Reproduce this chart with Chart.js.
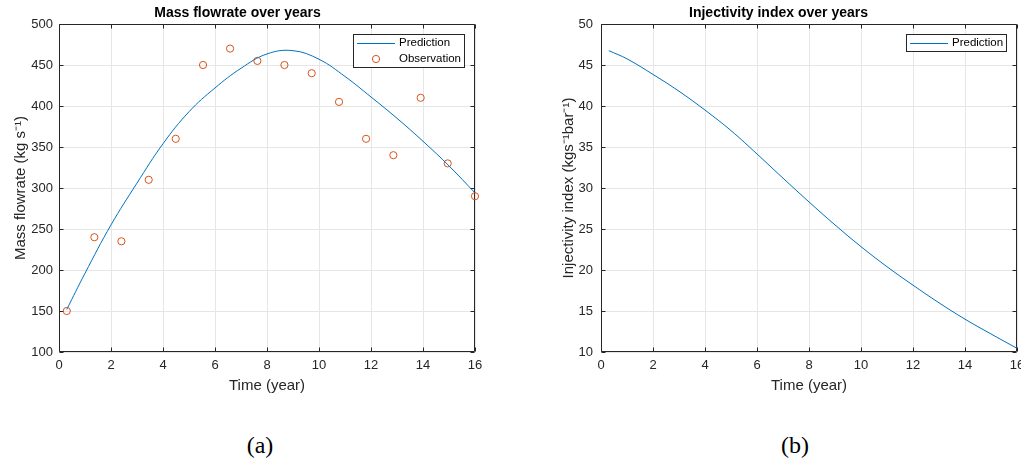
<!DOCTYPE html>
<html>
<head>
<meta charset="utf-8">
<script src="https://cdn.jsdelivr.net/npm/chart.js@4.4.1/dist/chart.umd.min.js"></script>
<style>
html,body{margin:0;padding:0;background:#fff;width:1021px;height:460px;overflow:hidden;position:relative;}
#wa{position:absolute;left:0;top:0;width:530px;height:400px;}
#wb{position:absolute;left:540px;top:0;width:481px;height:400px;overflow:hidden;}
.cap{position:absolute;top:445px;font-family:"Liberation Serif","Times New Roman",serif;font-size:24px;color:#000;transform:translate(-50%,-50%);white-space:nowrap;}
</style>
</head>
<body>
<div id="wa"><canvas id="ca" width="530" height="400"></canvas></div>
<div id="wb"><canvas id="cb" width="540" height="400"></canvas></div>
<div class="cap" style="left:260px;">(a)</div>
<div class="cap" style="left:795px;">(b)</div>
<script>
// ---------- data ----------
const obsYears = [0.3, 1.36, 2.4, 3.45, 4.49, 5.54, 6.58, 7.63, 8.67, 9.72, 10.77, 11.81, 12.86, 13.91, 14.95, 16];
const obsFlow = [150, 240, 235, 310, 360, 450, 470, 455, 450, 440, 405, 360, 340, 410, 330, 290];

const predYearsA = [0.3, 1, 2, 3, 4, 5, 6, 7, 8, 9, 10, 11, 12, 13, 14, 15, 16];
const predFlow = [152, 196, 255, 306, 354, 393, 422, 446, 463.5, 467.5, 457, 436, 411, 385, 357, 327, 294];

const predYearsB = [0.3, 1, 2, 3, 4, 5, 6, 7, 8, 9, 10, 11, 12, 13, 14, 15, 16];
const predInjectivity = [46.75, 45.75, 43.85, 41.8, 39.5, 37.0, 34.15, 31.2, 28.3, 25.5, 22.85, 20.4, 18.15, 16.0, 14.0, 12.2, 10.45];

const xTickLabels = [0, 2, 4, 6, 8, 10, 12, 14, 16];
const yTickLabelsA = [100, 150, 200, 250, 300, 350, 400, 450, 500];
const yTickLabelsB = [10, 15, 20, 25, 30, 35, 40, 45, 50];

const titleA = 'Mass flowrate over years';
const titleB = 'Injectivity index over years';
const xTitle = 'Time (year)';
const yTitleA = 'Mass flowrate (kg s\u207B\u00B9)';
const yTitleB = 'Injectivity index (kgs\u207B\u00B9bar\u207B\u00B9)';

// ---------- style ----------
const FONT = "'Liberation Sans', Arial, sans-serif";
const AXIS = '#262626';
const GRID = '#e6e6e6';
const BLUE = 'rgb(0,114,189)';
const ORANGE = 'rgb(217,83,25)';

const framePlugin = {
  id: 'frame',
  beforeDatasetsDraw(chart) {
    const {ctx, chartArea: a, scales: {x, y}} = chart;
    const L = Math.round(a.left) + 0.5, R = Math.round(a.right) - 0.5;
    const T = Math.round(a.top) + 0.5, B = Math.round(a.bottom) - 0.5;
    ctx.save();
    ctx.strokeStyle = AXIS;
    ctx.lineWidth = 1;
    ctx.beginPath();
    ctx.rect(L, T, R - L, B - T);
    x.ticks.forEach(t => {
      const p = Math.round(x.getPixelForValue(t.value)) + 0.5;
      ctx.moveTo(p, B); ctx.lineTo(p, B - 4);
      ctx.moveTo(p, T); ctx.lineTo(p, T + 4);
    });
    y.ticks.forEach(t => {
      const p = Math.round(y.getPixelForValue(t.value)) + 0.5;
      ctx.moveTo(L, p); ctx.lineTo(L + 4, p);
      ctx.moveTo(R, p); ctx.lineTo(R - 4, p);
    });
    ctx.stroke();
    ctx.restore();
  },
  afterDraw(chart) {
    const {ctx, chartArea: a} = chart;
    const items = chart.data.datasets;
    ctx.save();
    ctx.font = '11.5px ' + FONT;
    const tw = Math.max(...items.map(d => ctx.measureText(d.label).width));
    const w = Math.round(4 + 38 + 4 + tw + 4), h = 2 + items.length * 16;
    const right = Math.round(a.right) - 10, top = Math.round(a.top) + 10, left = right - w;
    ctx.fillStyle = '#fff';
    ctx.fillRect(left, top, w, h);
    ctx.strokeStyle = AXIS;
    ctx.lineWidth = 1;
    ctx.strokeRect(left + 0.5, top + 0.5, w - 1, h - 1);
    items.forEach((d, i) => {
      const cy = top + 9 + i * 16;
      ctx.strokeStyle = d.borderColor;
      ctx.lineWidth = 1;
      ctx.beginPath();
      if (d.showLine) {
        ctx.moveTo(left + 4, cy + 0.5); ctx.lineTo(left + 42, cy + 0.5);
      } else {
        ctx.arc(left + 23, cy, 3.6, 0, Math.PI * 2);
      }
      ctx.stroke();
      ctx.fillStyle = '#000';
      ctx.textBaseline = 'middle';
      ctx.textAlign = 'left';
      ctx.fillText(d.label, left + 46, cy);
    });
    ctx.restore();
  }
};

function makeOptions(title, yTitle, yTicks, yWidth, yTitlePad, yTickPad, padRight) {
  return {
    responsive: false,
    animation: false,
    events: [],
    layout: {padding: {left: 0, right: padRight, top: 0, bottom: 0}},
    plugins: {
      legend: {display: false},
      tooltip: {enabled: false},
      title: {
        display: true, text: title, color: '#000',
        font: {family: FONT, size: 14, weight: 'bold'},
        padding: {top: 4.6, bottom: 2.6}
      }
    },
    scales: {
      x: {
        type: 'linear', min: xTickLabels[0], max: xTickLabels[xTickLabels.length - 1],
        afterBuildTicks: s => { s.ticks = xTickLabels.map(v => ({value: v})); },
        afterFit: s => { s.height = 48; },
        grid: {color: GRID, lineWidth: 1, drawTicks: false},
        border: {display: false},
        ticks: {color: AXIS, font: {family: FONT, size: 13}, padding: 6, maxRotation: 0, autoSkip: false},
        title: {display: true, text: xTitle, color: AXIS, font: {family: FONT, size: 15}, padding: {top: 0, bottom: 5}}
      },
      y: {
        type: 'linear', min: yTicks[0], max: yTicks[yTicks.length - 1],
        afterBuildTicks: s => { s.ticks = yTicks.map(v => ({value: v})); },
        afterFit: s => { s.width = yWidth; },
        grid: {color: GRID, lineWidth: 1, drawTicks: false},
        border: {display: false},
        ticks: {color: AXIS, font: {family: FONT, size: 13}, padding: yTickPad, autoSkip: false},
        title: {display: true, text: yTitle, color: AXIS, font: {family: FONT, size: 15}, padding: {top: yTitlePad, bottom: 0}}
      }
    }
  };
}

new Chart(document.getElementById('ca'), {
  type: 'scatter',
  data: {
    datasets: [
      {
        label: 'Prediction',
        data: predYearsA.map((x, i) => ({x, y: predFlow[i]})),
        showLine: true, borderColor: BLUE, borderWidth: 1, pointRadius: 0,
        tension: 0.4, fill: false
      },
      {
        label: 'Observation',
        data: obsYears.map((x, i) => ({x, y: obsFlow[i]})),
        showLine: false, borderColor: ORANGE, backgroundColor: 'rgba(0,0,0,0)',
        borderWidth: 1, pointRadius: 3.6, pointStyle: 'circle', clip: false
      }
    ]
  },
  options: makeOptions(titleA, yTitleA, yTickLabelsA, 59, 12, 6, 55),
  plugins: [framePlugin]
});

new Chart(document.getElementById('cb'), {
  type: 'scatter',
  data: {
    datasets: [
      {
        label: 'Prediction',
        data: predYearsB.map((x, i) => ({x, y: predInjectivity[i]})),
        showLine: true, borderColor: BLUE, borderWidth: 1, pointRadius: 0,
        tension: 0.4, fill: false
      }
    ]
  },
  options: makeOptions(titleB, yTitleB, yTickLabelsB, 61, 20, 8, 63),
  plugins: [framePlugin]
});
</script>
</body>
</html>
